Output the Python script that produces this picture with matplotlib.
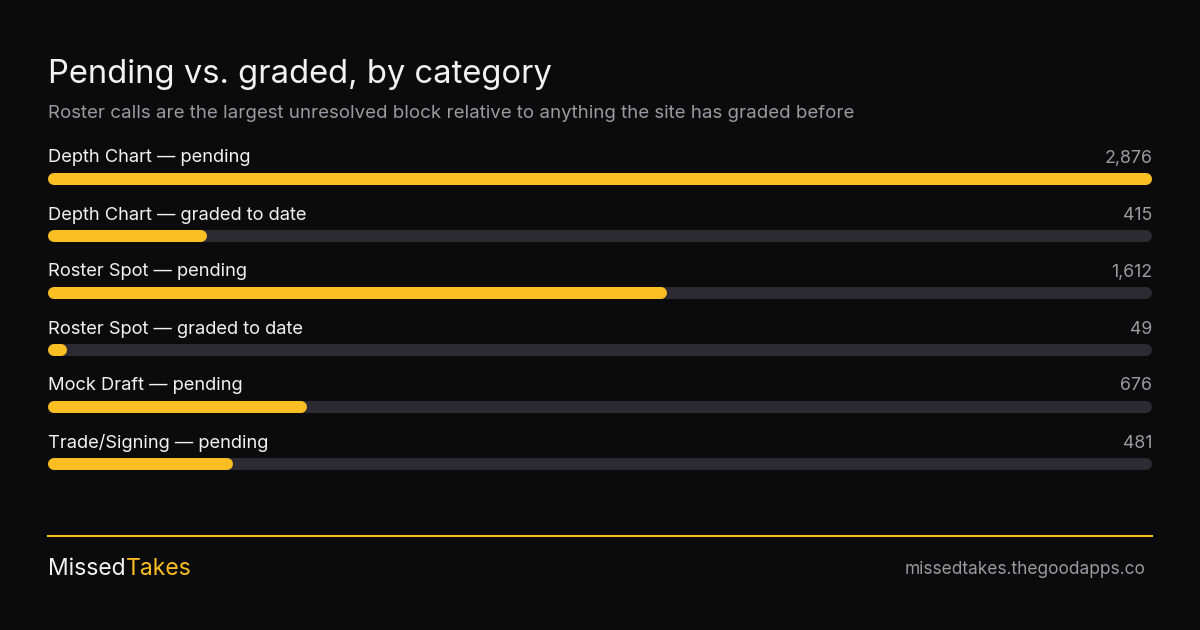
import matplotlib.pyplot as plt

labels = [
    "Depth Chart — pending",
    "Depth Chart — graded to date",
    "Roster Spot — pending",
    "Roster Spot — graded to date",
    "Mock Draft — pending",
    "Trade/Signing — pending",
]
values = [2876, 415, 1612, 49, 676, 481]

title = "Pending vs. graded, by category"
subtitle = "Roster calls are the largest unresolved block relative to anything the site has graded before"

BG = "#0b0b0b"
YELLOW = "#fbbf24"
TRACK = "#2c2a33"
WHITE = "#f2f2f2"
GREY = "#9a9aa1"

plt.rcParams["font.family"] = ["Inter", "DejaVu Sans"]

W, H = 1200, 630
fig = plt.figure(figsize=(W / 100, H / 100), dpi=100, facecolor=BG)

# bar area: x in data units, rows 0..5
x0, x1 = 48, 1152
top, bot = 130, 490
row0, step = 179, 57
ax = fig.add_axes([x0 / W, 1 - bot / H, (x1 - x0) / W, (bot - top) / H])
ax.set_facecolor(BG)
vmax = max(values)
ax.set_xlim(0, vmax)
ax.set_ylim((bot - row0) / step, (top - row0) / step)
ax.axis("off")

bar_px = 12
lw = bar_px * 72 / 100
cap = (bar_px / 2) * vmax / (x1 - x0)

for i, (lab, v) in enumerate(zip(labels, values)):
    ax.plot([cap, vmax - cap], [i, i], color=TRACK, lw=lw,
            solid_capstyle="round", zorder=1)
    ax.plot([cap, max(v - cap, cap)], [i, i], color=YELLOW, lw=lw,
            solid_capstyle="round", zorder=2)
    ax.text(0, i - 21 / step, lab, color=WHITE, fontsize=13.2,
            ha="left", va="center")
    ax.text(vmax, i - 21 / step, f"{v:,}", color=GREY, fontsize=12.8,
            ha="right", va="center")

# header
fig.text(x0 / W, 1 - 74 / H, title, color=WHITE, fontsize=23.6,
         ha="left", va="center")
fig.text(x0 / W, 1 - 113 / H, subtitle, color=GREY, fontsize=13.45,
         ha="left", va="center")

# footer
fig.add_artist(plt.Line2D([x0 / W, x1 / W], [1 - 536 / H, 1 - 536 / H],
                          color=YELLOW, lw=1.5))
t = fig.text(x0 / W, 1 - 569 / H, "Missed", color=WHITE, fontsize=16.5,
             ha="left", va="center")
fig.canvas.draw()
bb = t.get_window_extent()
fig.text(bb.x1 / W, 1 - 569 / H, "Takes", color=YELLOW, fontsize=16.5,
         ha="left", va="center")
fig.text(1146 / W, 1 - 569 / H, "missedtakes.thegoodapps.co", color=GREY,
         fontsize=12.45, ha="right", va="center")

fig.savefig("out.png", dpi=100, facecolor=BG)
